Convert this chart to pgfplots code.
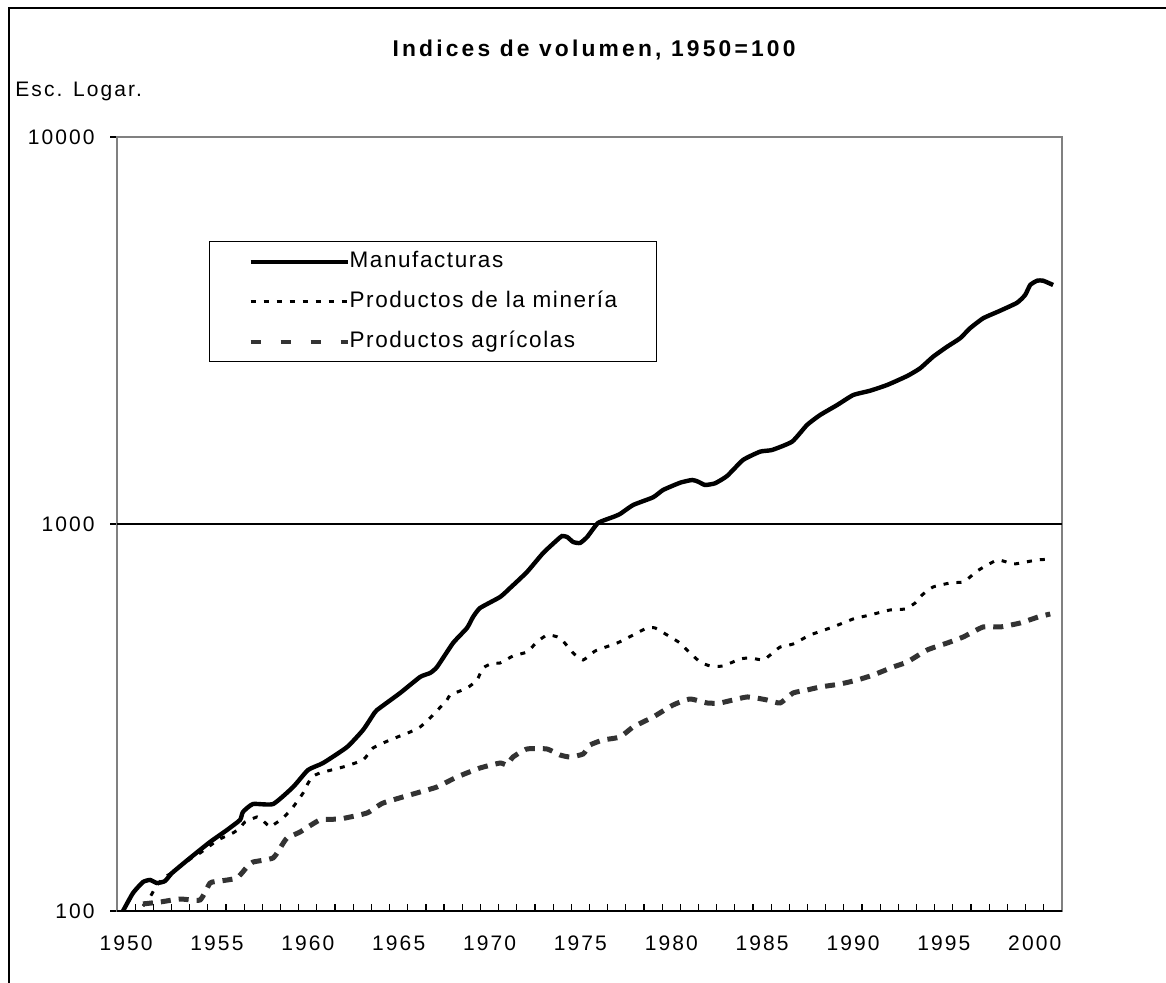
\documentclass[border=0pt]{standalone}
\usepackage{pgfplots}
\pgfplotsset{compat=1.18}
\usepackage{fontspec}
\setmainfont{Liberation Sans}
\newfontfamily\tickfont[LetterSpace=10]{Liberation Sans}
\newfontfamily\legfont[LetterSpace=7]{Liberation Sans}
\newfontfamily\titlefont[LetterSpace=14]{Liberation Sans}
\definecolor{agricol}{RGB}{51,51,51}
\definecolor{framecol}{RGB}{128,128,128}
\begin{document}
\begin{tikzpicture}
\useasboundingbox (0pt,0pt) rectangle (583pt,491pt);
\draw[line width=1pt] (4.5pt,-5pt) -- (4.5pt,487pt) -- (590pt,487pt);
\node[anchor=base, inner sep=0pt, font=\titlefont\fontsize{11.4}{13}\selectfont\bfseries] at (297pt,462.7pt) {Indices de volumen, 1950=100};
\node[anchor=base west, inner sep=0pt, font=\tickfont\fontsize{10.5}{12}\selectfont] at (7.5pt,442.6pt) {Esc. Logar.};
\begin{axis}[
  at={(58.5pt,35.5pt)}, anchor=south west,
  scale only axis, width=472.5pt, height=387pt,
  xmin=1950, xmax=2002,
  ymode=log, ymin=100, ymax=10000,
  axis line style={draw=framecol, line width=1.2pt},
  xtick={1950.5,1955.5,1960.5,1965.5,1970.5,1975.5,1980.5,1985.5,1990.5,1995.5,2000.5},
  xticklabels={1950,1955,1960,1965,1970,1975,1980,1985,1990,1995,2000},
  minor xtick={1951,1952,...,2001},
  xtick pos=bottom, ytick pos=left,
  xtick align=inside,
  major x tick style={draw=none},
  minor x tick style={black, line width=0.6pt},
  minor tick length=3.5pt,
  ytick={100,1000,10000},
  yticklabels={100,1000,10000},
  ytick align=outside,
  major tick length=3.5pt,
  major y tick style={black, line width=0.6pt},
  yminorticks=false,
  /pgf/number format/assume math mode=true,
  tick label style={font=\tickfont\fontsize{10.5}{12}\selectfont},
  xticklabel style={anchor=north, inner sep=0pt, yshift=-12pt},
  yticklabel style={anchor=east, inner sep=0pt, xshift=-7.5pt},
  legend style={at={(0.0974,0.8656)}, anchor=north west, draw=black, line width=0.6pt, fill=white,
    inner xsep=19.5pt, inner ysep=4.65pt, row sep=9.3pt,
    nodes={inner sep=0pt, text height=8.2pt, text depth=2.5pt},
    font=\legfont\fontsize{11.25}{13}\selectfont,
    /tikz/every even column/.append style={column sep=4pt}},
  legend cell align=left,
  legend image code/.code={\draw[#1] (0pt,0pt) -- (48.5pt,0pt);},
]
\draw[black, line width=0.6pt] (axis cs:1950,1000) -- (axis cs:2002,1000);
\draw[black, line width=1pt] (axis cs:1950,100) -- (axis cs:2002,100);

\addplot[forget plot, black, line width=2.2pt, smooth, tension=0.3] coordinates {
(1950.33,100) (1950.88,111.3) (1951.43,118.8) (1951.82,120.3) (1952.20,118.1) (1952.64,119.5) (1953.03,125.4) (1954.02,137.1) (1955.12,150.8) (1956.05,161.9) (1956.77,171.9) (1956.93,180.3) (1957.48,189.0) (1958.59,189.0) (1959.69,209.1) (1960.51,231.4) (1961.34,241.2) (1962.66,265.3) (1963.54,293.6) (1964.09,321.0) (1964.31,330.7) (1965.58,365.9) (1966.68,402.5) (1967.23,412.1) (1967.61,427.1) (1968.49,492.5) (1969.26,538.7) (1969.59,575.1) (1969.98,606.7) (1971.08,647.8) (1971.63,683.3) (1972.56,751.6) (1973.45,841.5) (1974.22,909.3) (1974.49,931.1) (1974.77,925.6) (1975.10,898.5) (1975.48,893.2) (1975.87,925.6) (1976.47,1006) (1977.30,1042.6) (1977.68,1061.3) (1978.40,1119.6) (1979.50,1172.2) (1980.05,1224.4) (1980.99,1278.6) (1981.65,1299.4) (1981.98,1286.3) (1982.36,1261.4) (1982.91,1274.2) (1983.57,1330.6) (1984.45,1463.9) (1985.39,1538) (1986.05,1553.6) (1987.15,1632.4) (1987.97,1803) (1988.69,1913) (1989.63,2030) (1990.51,2154) (1991.44,2210) (1992.38,2287) (1993.48,2412) (1994.19,2525) (1994.91,2706) (1995.68,2872) (1996.39,3019) (1996.94,3205) (1997.66,3401) (1998.60,3558) (1999.53,3731) (1999.97,3906) (2000.25,4146) (2000.63,4253) (2000.96,4253) (2001.51,4146)
};

\addplot[forget plot, black, line width=1.5pt, dash pattern=on 2.5pt off 4pt, smooth, tension=0.3] coordinates {
(1951.43,103.0) (1951.82,108.7) (1952.20,116.7) (1952.64,122.4) (1953.08,126.1) (1954.18,137.9) (1954.57,141.2) (1955.56,152.6) (1956.38,159.1) (1956.77,163.9) (1957.04,169.8) (1957.70,175.0) (1957.87,173.9) (1958.42,164.8) (1958.59,166.8) (1959.14,173.9) (1959.69,185.7) (1960.24,201.8) (1960.46,211.6) (1960.73,222.0) (1961.17,227.3) (1962.44,235.6) (1963.54,245.6) (1964.09,263.8) (1965.02,276.6) (1966.13,290.1) (1966.68,298.9) (1967.23,315.3) (1968.16,351.0) (1968.33,361.5) (1969.26,376.9) (1969.81,395.3) (1970.14,424.6) (1970.69,437.4) (1971.08,437.4) (1971.79,456.0) (1972.56,467.0) (1973.11,495.5) (1973.67,516.6) (1974.38,507.5) (1975.10,464.2) (1975.65,445.3) (1976.31,469.8) (1977.52,492.5) (1978.40,516.6) (1979.17,538.7) (1979.61,538.7) (1980.27,516.6) (1980.98,492.5) (1981.53,464.2) (1982.09,440.0) (1982.64,429.7) (1983.35,429.7) (1984.29,447.9) (1984.84,450.6) (1985.55,445.3) (1985.94,458.6) (1986.49,481.0) (1987.20,489.6) (1988.14,516.6) (1989.40,541.9) (1990.51,568.3) (1991.44,582.1) (1992.54,599.6) (1993.37,603.2) (1993.92,625.1) (1994.30,655.5) (1994.91,687.6) (1995.84,704.0) (1996.56,708.3) (1996.94,729.6) (1997.33,756.1) (1997.88,783.5) (1998.43,807.2) (1998.76,802.4) (1999.31,788.2) (1999.70,792.9) (2000.63,807.2) (2001.46,812.0)
};

\addplot[forget plot, agricol, line width=2.5pt, dash pattern=on 5pt off 4pt, smooth, tension=0.3] coordinates {
(1951.43,104.3) (1952.37,105.5) (1953.47,107.4) (1954.57,106.8) (1955.12,118.1) (1955.67,119.5) (1956.60,121.7) (1957.15,129.9) (1957.48,133.8) (1958.59,137.1) (1959.08,148.1) (1959.36,154.4) (1960.07,160.0) (1961.17,171.9) (1962.27,172.9) (1963.76,179.2) (1964.64,190.1) (1966.68,203.0) (1967.61,209.2) (1968.71,222.0) (1969.98,234.2) (1971.08,241.2) (1971.46,238.4) (1971.79,250.0) (1972.56,262.2) (1973.66,262.2) (1974.38,253.0) (1974.93,250.0) (1975.65,254.5) (1976.03,268.5) (1976.75,276.6) (1977.68,281.6) (1978.40,298.9) (1979.50,317.2) (1980.60,340.7) (1981.53,353.0) (1982.47,344.8) (1983.19,344.8) (1984.67,357.3) (1985.77,351.0) (1986.49,344.8) (1987.20,365.9) (1987.97,372.5) (1988.69,379.2) (1989.79,386.0) (1990.73,395.3) (1991.61,407.2) (1992.71,427.1) (1993.48,440.0) (1994.58,472.6) (1995.68,492.5) (1996.56,510.5) (1997.66,541.9) (1998.60,541.9) (1999.70,554.9) (2000.69,575.1) (2001.35,585.5)
};

\addlegendimage{black, line width=2pt}
\addlegendentry{Manufacturas}
\addlegendimage{black, line width=1.5pt, dash pattern=on 2.5pt off 4pt}
\addlegendentry{Productos de la minería}
\addlegendimage{agricol, line width=2pt, dash pattern=on 5pt off 10pt}
\addlegendentry{Productos agrícolas}
\end{axis}
\end{tikzpicture}
\end{document}
